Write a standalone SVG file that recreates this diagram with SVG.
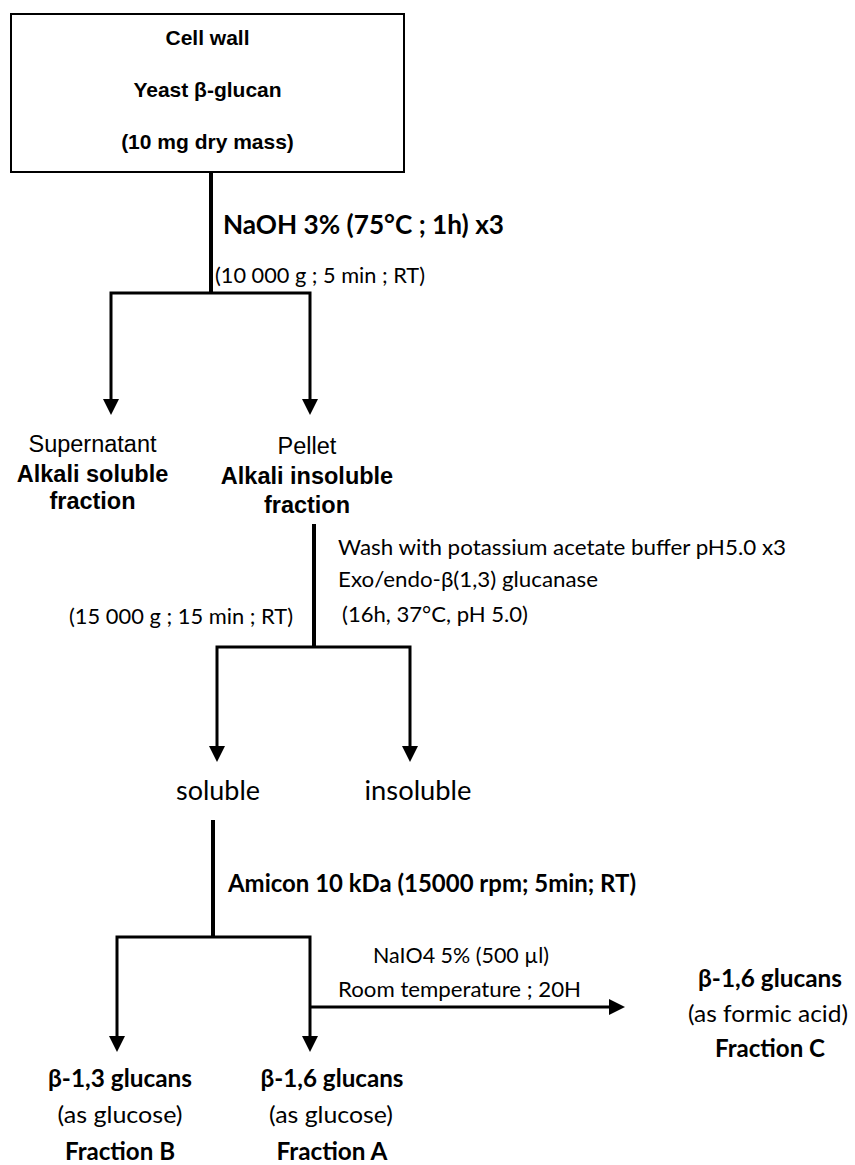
<svg xmlns="http://www.w3.org/2000/svg" width="855" height="1165" viewBox="0 0 855 1165">
<style>
.ar{font-family:"Liberation Sans",Arial,sans-serif;fill:#000}
.arb{font-family:"Liberation Sans",Arial,sans-serif;font-weight:bold;fill:#000}
.ca{font-family:Lato,"Open Sans",sans-serif;fill:#000}
.cab{font-family:Lato,"Open Sans",sans-serif;font-weight:bold;fill:#000}
.trunk{stroke:#000;stroke-width:4;fill:none}
.br{stroke:#000;stroke-width:3;fill:none;stroke-linejoin:miter}
.m{text-anchor:middle}
</style>
<defs>
<marker id="ah" markerUnits="userSpaceOnUse" markerWidth="16" markerHeight="16" viewBox="0 0 16 16" refX="2" refY="8" orient="auto">
<path d="M0,0 L16,8 L0,16 z" fill="#000"/>
</marker>
</defs>
<rect width="855" height="1165" fill="#fff"/>

<g id="connectors">
<path class="trunk" d="M211,172 V294"/>
<path class="br" d="M211,293 H111 V401" marker-end="url(#ah)"/>
<path class="br" d="M211,293 H310 V401" marker-end="url(#ah)"/>
<path class="trunk" d="M314,524 V648"/>
<path class="br" d="M314,647 H217 V748" marker-end="url(#ah)"/>
<path class="br" d="M314,647 H410 V748" marker-end="url(#ah)"/>
<path class="trunk" d="M213,820 V938"/>
<path class="br" d="M213,937 H117 V1038" marker-end="url(#ah)"/>
<path class="br" d="M213,937 H310 V1038" marker-end="url(#ah)"/>
<path class="br" d="M310,1007 H611" marker-end="url(#ah)"/>
</g>

<g id="node-cellwall">
<rect x="11" y="14" width="393" height="158" fill="#fff" stroke="#000" stroke-width="2"/>
<text class="arb m" x="207.5" y="45" font-size="21">Cell wall</text>
<text class="arb m" x="207.5" y="97" font-size="21">Yeast β-glucan</text>
<text class="arb m" x="207.5" y="149" font-size="21">(10 mg dry mass)</text>
</g>

<g id="labels">
<text class="cab" x="223" y="234" font-size="27" textLength="281" lengthAdjust="spacingAndGlyphs">NaOH 3% (75°C ; 1h) x3</text>
<text class="ca" x="215" y="283" font-size="22" textLength="210" lengthAdjust="spacingAndGlyphs">(10 000 g ; 5 min ; RT)</text>
<text class="ca" x="338" y="555" font-size="22" textLength="448" lengthAdjust="spacingAndGlyphs">Wash with potassium acetate buffer pH5.0 x3</text>
<text class="ca" x="338" y="587" font-size="22" textLength="260" lengthAdjust="spacingAndGlyphs">Exo/endo-β(1,3) glucanase</text>
<text class="ca" x="342" y="622" font-size="22" textLength="186" lengthAdjust="spacingAndGlyphs">(16h, 37°C, pH 5.0)</text>
<text class="ca" x="69" y="624" font-size="22" textLength="224" lengthAdjust="spacingAndGlyphs">(15 000 g ; 15 min ; RT)</text>
<text class="cab" x="228" y="892" font-size="24" textLength="408" lengthAdjust="spacingAndGlyphs">Amicon 10 kDa (15000 rpm; 5min; RT)</text>
<text class="ca" x="373" y="963" font-size="22" textLength="176" lengthAdjust="spacingAndGlyphs">NaIO4 5% (500 µl)</text>
<text class="ca" x="338" y="997" font-size="22" textLength="243" lengthAdjust="spacingAndGlyphs">Room temperature ; 20H</text>
</g>

<g id="node-supernatant">
<text class="ar m" x="92.5" y="452" font-size="23.5">Supernatant</text>
<text class="arb m" x="92.5" y="482" font-size="23.5">Alkali soluble</text>
<text class="arb m" x="92.5" y="509" font-size="23.5">fraction</text>
</g>

<g id="node-pellet">
<text class="ar m" x="307" y="454" font-size="23.5">Pellet</text>
<text class="arb m" x="307" y="484" font-size="23.5">Alkali insoluble</text>
<text class="arb m" x="307" y="513" font-size="23.5">fraction</text>
</g>

<g id="node-soluble">
<text class="ca m" x="218" y="800" font-size="26" textLength="84" lengthAdjust="spacingAndGlyphs">soluble</text>
</g>
<g id="node-insoluble">
<text class="ca m" x="418" y="800" font-size="26" textLength="107" lengthAdjust="spacingAndGlyphs">insoluble</text>
</g>

<g id="node-fractionB">
<text class="cab m" x="120" y="1087" font-size="24" textLength="144" lengthAdjust="spacingAndGlyphs">β-1,3 glucans</text>
<text class="ca m" x="120" y="1123" font-size="24" textLength="125" lengthAdjust="spacingAndGlyphs">(as glucose)</text>
<text class="cab m" x="120" y="1160" font-size="24" textLength="110" lengthAdjust="spacingAndGlyphs">Fraction B</text>
</g>

<g id="node-fractionA">
<text class="cab m" x="332" y="1087" font-size="24" textLength="143" lengthAdjust="spacingAndGlyphs">β-1,6 glucans</text>
<text class="ca m" x="331" y="1123" font-size="24" textLength="124" lengthAdjust="spacingAndGlyphs">(as glucose)</text>
<text class="cab m" x="332" y="1160" font-size="24" textLength="111" lengthAdjust="spacingAndGlyphs">Fraction A</text>
</g>

<g id="node-fractionC">
<text class="cab m" x="770" y="987" font-size="24" textLength="144" lengthAdjust="spacingAndGlyphs">β-1,6 glucans</text>
<text class="ca m" x="768" y="1022" font-size="24" textLength="160" lengthAdjust="spacingAndGlyphs">(as formic acid)</text>
<text class="cab m" x="770" y="1057" font-size="24" textLength="110" lengthAdjust="spacingAndGlyphs">Fraction C</text>
</g>
</svg>
